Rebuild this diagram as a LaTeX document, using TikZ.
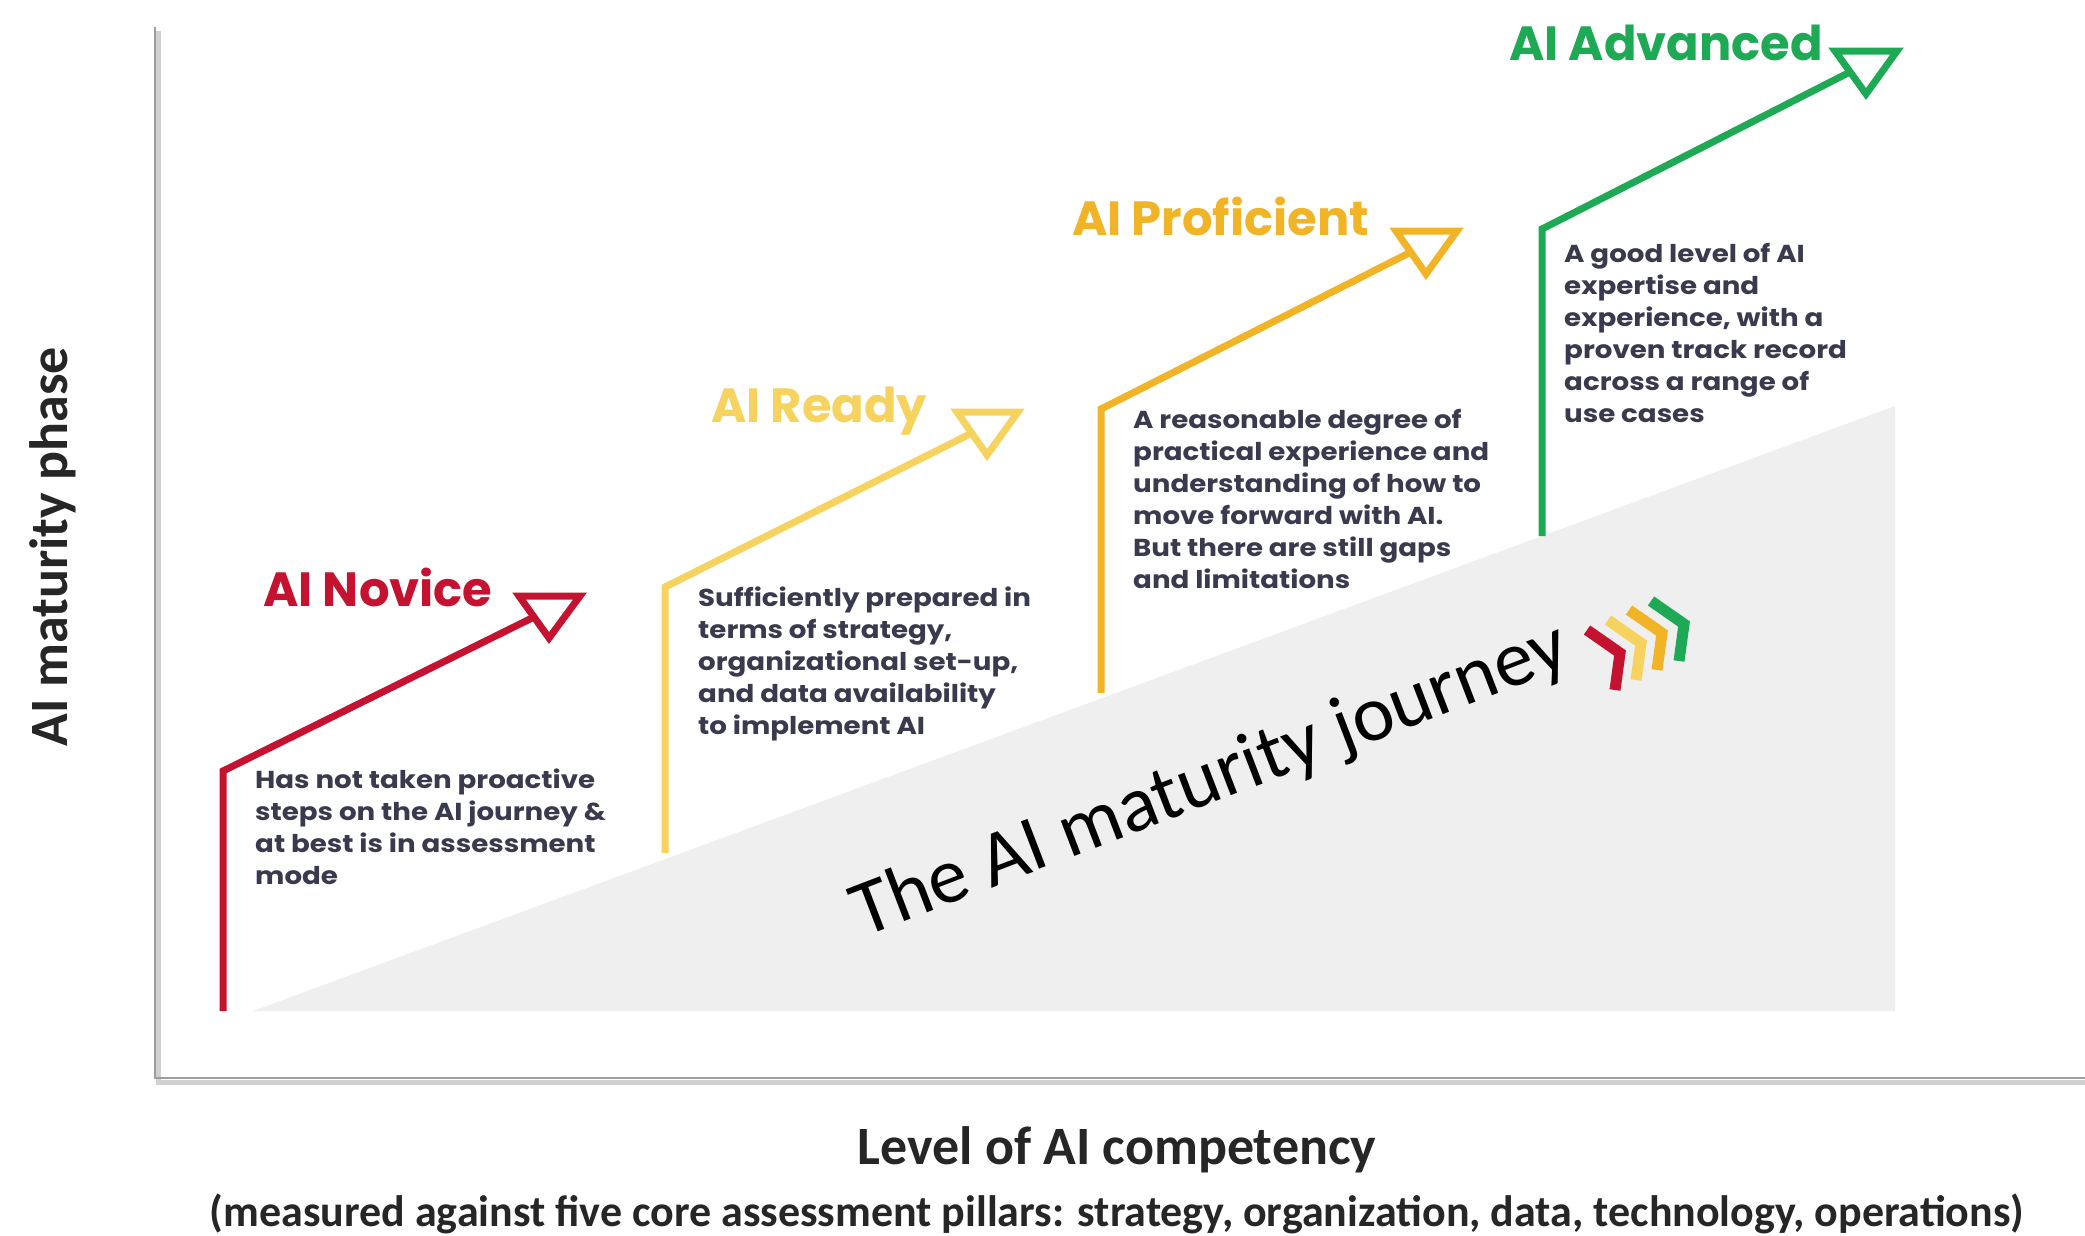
\documentclass[tikz,border=0pt]{standalone}
\usepackage{fontspec}
\newfontfamily\popfont{Poppins}
\newfontfamily\popdesc{Poppins}[FakeStretch=1.13]
\newfontfamily\carfont{Carlito}
\definecolor{novicec}{HTML}{C41230}
\definecolor{readyc}{HTML}{F6D35E}
\definecolor{profc}{HTML}{F1B427}
\definecolor{advc}{HTML}{1EAA55}
\definecolor{descc}{HTML}{3A3A4E}
\definecolor{graybg}{HTML}{EFEFEF}
\definecolor{axisc}{HTML}{9E9E9E}
\begin{document}
\begin{tikzpicture}[x=1pt,y=-1pt,
  stepline/.style={line width=7pt, line join=miter, line cap=butt},
  headline/.style={font=\popfont\bfseries\fontsize{48}{52}\selectfont, anchor=base west, inner sep=0pt},
  desc/.style={font=\popdesc\bfseries\fontsize{24.5}{32}\selectfont, text=descc, align=left, anchor=north west, inner sep=0pt},
  axlabel/.style={font=\carfont\bfseries\fontsize{54}{58}\selectfont, text=black!85, inner sep=0pt},
  chev/.style={line width=11pt, line join=miter, line cap=butt}
]
\useasboundingbox (0,0) rectangle (2085,1235);
\fill[white] (0,0) rectangle (2085,1235);

% background wedge
\coordinate (g1) at (253,1011);
\coordinate (g2) at (1895,406);
\coordinate (g3) at (1895,1011);
\fill[graybg] (g1) -- (g2) -- (g3) -- cycle;

% axes
\coordinate (ytop) at (155,27);
\coordinate (orig) at (155,1078);
\coordinate (xend) at (2085,1078);
\draw[line width=5pt, black!18] ([shift={(3,4)}]ytop) -- ([shift={(3,4)}]orig) -- ([shift={(3,4)}]xend);
\draw[line width=2.5pt, axisc] (ytop) -- (orig) -- (xend);

% AI Novice
\coordinate (nB) at (223,1011);
\coordinate (nC) at (223,771);
\coordinate (nE) at (534,617);
\draw[stepline, novicec] (nB) -- (nC) -- (nE);
\draw[stepline, novicec] (519,596) -- (580,596) -- (549,638) -- cycle;
\node[headline, text=novicec] (nT) at (263,606) {AI Novice};
\node[desc] (nD) at (255,769) {Has not taken proactive\\steps on the AI journey \&\\at best is in assessment\\mode};

% AI Ready
\coordinate (rB) at (665,853);
\coordinate (rC) at (665,587);
\coordinate (rE) at (972,433);
\draw[stepline, readyc] (rB) -- (rC) -- (rE);
\draw[stepline, readyc] (957,412) -- (1018,412) -- (987,455) -- cycle;
\node[headline, text=readyc] (rT) at (711,422) {AI Ready};
\node[desc] (rD) at (698,587) {Sufficiently prepared in\\terms of strategy,\\organizational set-up,\\and data availability\\to implement AI};

% AI Proficient
\coordinate (pB) at (1101,693);
\coordinate (pC) at (1101,409);
\coordinate (pE) at (1411,252);
\draw[stepline, profc] (pB) -- (pC) -- (pE);
\draw[stepline, profc] (1396,231) -- (1457,231) -- (1426,274) -- cycle;
\node[headline, text=profc] (pT) at (1072,235) {AI Proficient};
\node[desc] (pD) at (1133,409) {A reasonable degree of\\practical experience and\\understanding of how to\\move forward with AI.\\But there are still gaps\\and limitations};

% AI Advanced
\coordinate (aB) at (1542,536);
\coordinate (aC) at (1542,229);
\coordinate (aE) at (1850,72);
\draw[stepline, advc] (aB) -- (aC) -- (aE);
\draw[stepline, advc] (1835,51) -- (1897,51) -- (1866,94) -- cycle;
\node[headline, text=advc] (aT) at (1509,60) {AI Advanced};
\node[desc] (aD) at (1564,243) {A good level of AI\\expertise and\\experience, with a\\proven track record\\across a range of\\use cases};

% journey text
\node[font=\carfont\fontsize{79}{83}\selectfont, rotate=21, anchor=base, inner sep=0pt] (jT) at (1218,801) {The AI maturity journey};

% chevrons
\draw[chev, novicec] (1587,630) -- (1620,653) -- (1615,690);
\draw[chev, readyc] (1608,620) -- (1641,643) -- (1636,680);
\draw[chev, profc] (1629,610) -- (1662,633) -- (1657,670);
\draw[chev, advc] (1651,601) -- (1684,624) -- (1679,661);

% axis labels
\node[axlabel, rotate=90] (yl) at (53,547) {AI maturity phase};
\node[axlabel] (xl) at (1117,1150) {Level of AI competency};
\node[font=\carfont\bfseries\fontsize{44}{48}\selectfont, text=black!85, inner sep=0pt] (xs) at (1117,1214) {(measured against five core assessment pillars: strategy, organization, data, technology, operations)};
\end{tikzpicture}
\end{document}
